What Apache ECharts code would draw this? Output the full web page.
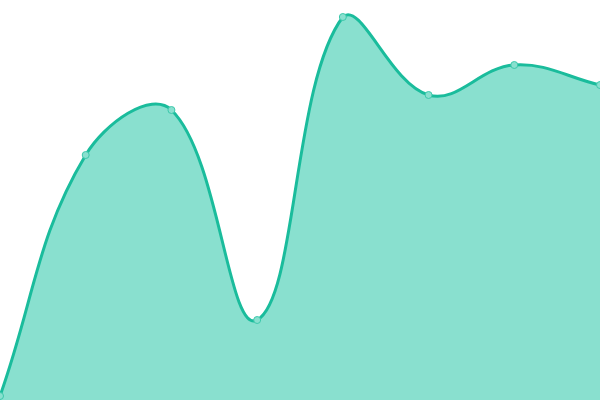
<!DOCTYPE html>
<html>
<head>
<meta charset="utf-8">
<script src="https://cdn.jsdelivr.net/npm/echarts@6/dist/echarts.min.js"></script>
<style>
  html, body { margin: 0; padding: 0; background: #fff; }
  #chart { width: 600px; height: 400px; }
</style>
</head>
<body>
<div id="chart"></div>
<script>
// 数据：8 个点，无坐标轴显示
const categories = ['1', '2', '3', '4', '5', '6', '7', '8'];
const values = [4, 245, 290, 80, 383, 305, 335, 315];

const LINE_COLOR = '#1abc9c';
const FILL_COLOR = '#89e0cf';
const TENSION = 0.4;

// 样条控制点（带过冲的 cardinal 曲线），并限制在绘图区内
function controlPoints(pts, t, rect) {
  const clamp = (v, a, b) => Math.max(a, Math.min(b, v));
  return pts.map((p, i) => {
    const prev = pts[i - 1] || p;
    const next = pts[i + 1] || p;
    const d01 = Math.hypot(p[0] - prev[0], p[1] - prev[1]);
    const d12 = Math.hypot(next[0] - p[0], next[1] - p[1]);
    let s01 = d01 / (d01 + d12);
    let s12 = d12 / (d01 + d12);
    if (isNaN(s01)) s01 = 0;
    if (isNaN(s12)) s12 = 0;
    const fa = t * s01, fb = t * s12;
    const c = (x, y) => [clamp(x, rect.x, rect.x + rect.width), clamp(y, rect.y, rect.y + rect.height)];
    return {
      prev: c(p[0] - fa * (next[0] - prev[0]), p[1] - fa * (next[1] - prev[1])),
      next: c(p[0] + fb * (next[0] - prev[0]), p[1] + fb * (next[1] - prev[1]))
    };
  });
}

function renderCurve(params, api) {
  if (params.dataIndex !== 0) return null;
  const rect = params.coordSys;
  const pts = values.map((v, i) => api.coord([i, v]));
  const cps = controlPoints(pts, TENSION, rect);
  let line = 'M' + pts[0][0] + ',' + pts[0][1];
  for (let i = 1; i < pts.length; i++) {
    const a = cps[i - 1].next, b = cps[i].prev;
    line += ' C' + a[0] + ',' + a[1] + ' ' + b[0] + ',' + b[1] + ' ' + pts[i][0] + ',' + pts[i][1];
  }
  const base = api.coord([0, 0])[1];
  const last = pts[pts.length - 1];
  const area = line + ' L' + last[0] + ',' + base + ' L' + pts[0][0] + ',' + base + ' Z';
  return {
    type: 'group',
    children: [
      { type: 'path', shape: { pathData: area }, style: { fill: FILL_COLOR, stroke: null } },
      { type: 'path', shape: { pathData: line }, style: { fill: null, stroke: LINE_COLOR, lineWidth: 3 } }
    ]
  };
}

const chart = echarts.init(document.getElementById('chart'));

chart.setOption({
  animation: false,
  grid: { left: 0, right: 0, top: 0, bottom: 0 },
  xAxis: {
    type: 'category',
    data: categories,
    boundaryGap: false,
    show: false
  },
  yAxis: {
    type: 'value',
    min: 0,
    max: 400,
    show: false
  },
  series: [
    {
      type: 'custom',
      data: values.map((v, i) => [i, v]),
      encode: { x: 0, y: 1 },
      renderItem: renderCurve,
      z: 1
    },
    {
      type: 'line',
      data: values,
      symbol: 'circle',
      symbolSize: 7,
      lineStyle: { width: 0, opacity: 0 },
      itemStyle: { color: FILL_COLOR, borderColor: '#3cc8ab', borderWidth: 1 },
      z: 3
    }
  ]
});
</script>
</body>
</html>
